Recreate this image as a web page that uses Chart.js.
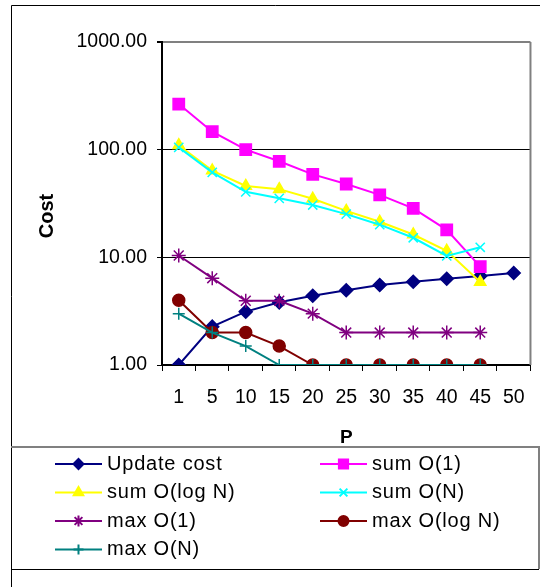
<!DOCTYPE html>
<html>
<head>
<meta charset="utf-8">
<script src="https://cdn.jsdelivr.net/npm/chart.js@4.4.1/dist/chart.umd.min.js"></script>
<style>
    html, body { margin: 0; padding: 0; background: #fff; }
    #wrap { width: 540px; height: 587px; position: relative; }
</style>
</head>
<body>
<div id="wrap"><canvas id="costChart" width="540" height="587"></canvas></div>
<script>
// categories (P)
const pLabels = ["1", "5", "10", "15", "20", "25", "30", "35", "40", "45", "50"];
const yTicks = [1, 10, 100, 1000];

// series values
const updateCost = [1.0, 2.27, 3.13, 3.82, 4.4, 4.94, 5.53, 5.94, 6.33, 6.7, 7.15];
const sumO1 = [265, 147, 100, 78, 59, 48, 38, 28.5, 18, 8.2, null];
const sumOlogN = [110, 64, 46, 43, 35, 27, 21.4, 16.3, 11.5, 5.9, null];
const sumON = [105, 61.5, 40.6, 35.3, 30.6, 25.2, 20.1, 15.2, 10.3, 12.4, null];
const maxO1 = [10.4, 6.4, 3.95, 3.95, 3.0, 2, 2, 2, 2, 2, null];
const maxOlogN = [4, 2, 2, 1.5, 1, 1, 1, 1, 1, 1, null];
const maxON = [3, 2, 1.5, 1, 1, 1, 1, 1, 1, 1, null];

const FONT = "'Liberation Sans', Arial, sans-serif";

function series(label, data, color, style, radius, legendRadius) {
    return {
        label: label,
        data: data,
        borderColor: color,
        backgroundColor: color,
        pointBackgroundColor: color,
        pointBorderColor: color,
        pointStyle: style,
        pointRadius: radius,
        pointBorderWidth: 1.5,
        borderWidth: 2,
        tension: 0,
        spanGaps: false,
        legendRadius: legendRadius
    };
}

const datasets = [
    series("Update cost", updateCost, "#000080", "rectRot", 6.5, 5),
    series("sum O(1)", sumO1, "#FF00FF", "rect", 8, 6.5),
    series("sum O(log N)", sumOlogN, "#FFFF00", "triangle", 6.5, 5.5),
    series("sum O(N)", sumON, "#00FFFF", "crossRot", 6.5, 5.5),
    series("max O(1)", maxO1, "#800080", "star", 7, 5.5),
    series("max O(log N)", maxOlogN, "#800000", "circle", 6, 5),
    series("max O(N)", maxON, "#008080", "cross", 6, 5)
];
// later series drawn on top, like the original
datasets.forEach((d, i) => { d.order = datasets.length - i; });

// Frame, plot border, y title and two-column legend
const framePlugin = {
    id: "frame",
    afterDraw(chart) {
        const ctx = chart.ctx;
        const area = chart.chartArea;
        ctx.save();
        // outer border
        ctx.strokeStyle = "#000";
        ctx.lineWidth = 1;
        ctx.beginPath();
        ctx.moveTo(11.5, 587);
        ctx.lineTo(11.5, 5.5);
        ctx.lineTo(540, 5.5);
        ctx.stroke();
        // plot area right border
        ctx.strokeStyle = "#808080";
        ctx.lineWidth = 2;
        ctx.beginPath();
        ctx.moveTo(area.right, area.top);
        ctx.lineTo(area.right, area.bottom);
        ctx.stroke();

        // y axis title
        ctx.save();
        ctx.translate(47, 216);
        ctx.rotate(-Math.PI / 2);
        ctx.font = "bold 20px " + FONT;
        ctx.fillStyle = "#000";
        ctx.textAlign = "center";
        ctx.textBaseline = "middle";
        ctx.fillText("Cost", 0, 0);
        ctx.restore();

        // legend box
        ctx.strokeStyle = "#808080";
        ctx.lineWidth = 2;
        ctx.beginPath();
        ctx.moveTo(11, 447);
        ctx.lineTo(539, 447);
        ctx.lineTo(539, 569);
        ctx.stroke();
        ctx.strokeStyle = "#000";
        ctx.lineWidth = 1;
        ctx.beginPath();
        ctx.moveTo(11, 569.5);
        ctx.lineTo(539, 569.5);
        ctx.stroke();

        // legend entries
        const cols = [55, 320];
        const rows = [464, 492.5, 521, 549.5];
        ctx.font = "20px " + FONT;
        ctx.letterSpacing = "0.8px";
        ctx.textBaseline = "middle";
        ctx.textAlign = "left";
        chart.data.datasets.forEach((ds, i) => {
            const x = cols[i % 2];
            const y = rows[Math.floor(i / 2)];
            ctx.strokeStyle = ds.borderColor;
            ctx.lineWidth = 2;
            ctx.beginPath();
            ctx.moveTo(x, y);
            ctx.lineTo(x + 47, y);
            ctx.stroke();
            ctx.fillStyle = ds.borderColor;
            Chart.helpers.drawPoint(ctx, {
                pointStyle: ds.pointStyle,
                radius: ds.legendRadius,
                borderWidth: 1.5,
                rotation: 0
            }, x + 23.5, y);
            ctx.fillStyle = "#000";
            ctx.fillText(ds.label, x + 52, y);
        });
        ctx.restore();
    }
};

new Chart(document.getElementById("costChart"), {
    type: "line",
    data: { labels: pLabels, datasets: datasets },
    plugins: [framePlugin],
    options: {
        responsive: false,
        animation: false,
        layout: { padding: { left: 0, top: 42, right: 7, bottom: 0 } },
        plugins: {
            legend: { display: false },
            tooltip: { enabled: false }
        },
        scales: {
            x: {
                type: "category",
                offset: true,
                afterFit(scale) { scale.height = 222; },
                grid: {
                    offset: true,
                    drawOnChartArea: false,
                    drawTicks: true,
                    tickLength: 6,
                    tickColor: "#000",
                    tickWidth: 1
                },
                border: { color: "#000", width: 2 },
                ticks: {
                    color: "#000",
                    padding: 15,
                    maxRotation: 0,
                    autoSkip: false,
                    font: { family: FONT, size: 19.5 }
                },
                title: {
                    display: true,
                    text: "P",
                    color: "#000",
                    font: { family: FONT, size: 19, weight: "bold" },
                    padding: { top: 0, bottom: 138 }
                }
            },
            y: {
                type: "logarithmic",
                min: 1,
                max: 1000,
                afterFit(scale) { scale.width = 162; },
                afterBuildTicks(scale) {
                    scale.ticks = yTicks.map(v => ({ value: v, major: true }));
                },
                grid: {
                    color: ctx => (ctx.tick && ctx.tick.value === 1000 ? "#808080" : "#000"),
                    lineWidth: ctx => (ctx.tick && ctx.tick.value === 1000 ? 2 : 1),
                    drawTicks: true,
                    tickLength: 5,
                    tickColor: "#000"
                },
                border: { color: "#000", width: 2 },
                ticks: {
                    color: "#000",
                    padding: 10,
                    font: { family: FONT, size: 19.5 },
                    callback: v => Number(v).toFixed(2)
                },
                title: { display: false }
            }
        }
    }
});
</script>
</body>
</html>
